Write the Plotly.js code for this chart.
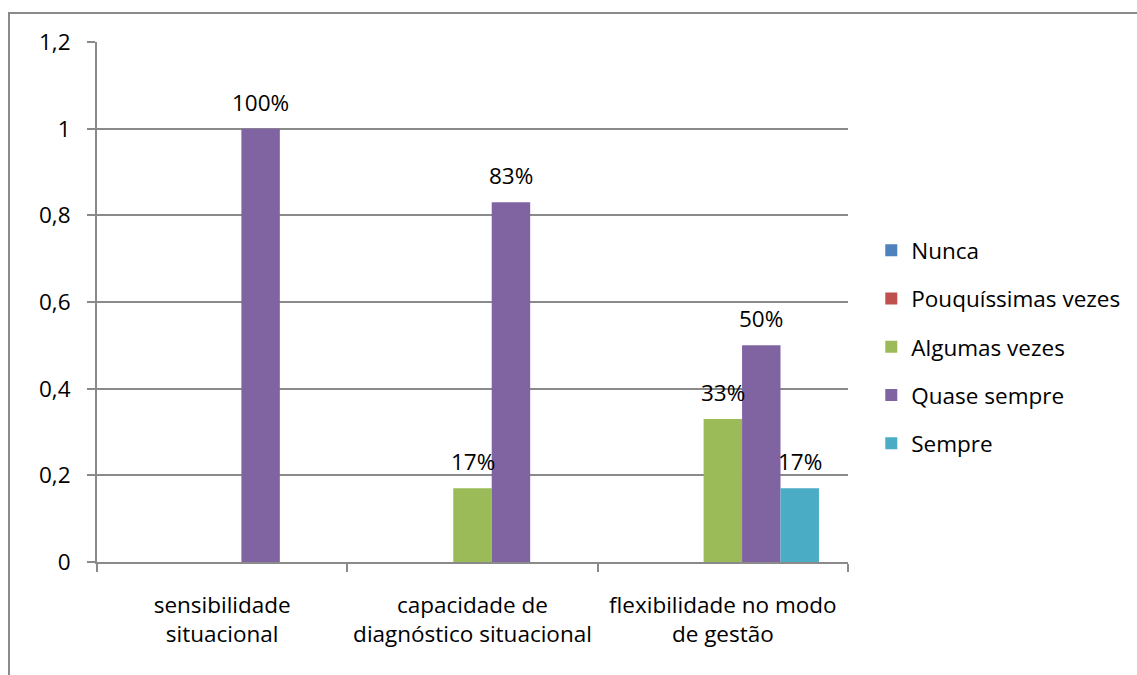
<!DOCTYPE html>
<html>
<head>
<meta charset="utf-8">
<script src="https://cdn.plot.ly/plotly-3.0.1.min.js"></script>
<style>
  html, body { margin: 0; padding: 0; background: #ffffff; }
  #wrap { position: relative; width: 1137px; height: 675px; overflow: hidden; }
  #chart { position: absolute; left: 0; top: 0; width: 1137px; height: 675px; }
  #frame { position: absolute; left: 8px; top: 12px; width: 1200px; height: 700px;
           border-top: 2px solid #8a8a8a; border-left: 2px solid #8a8a8a; pointer-events: none; }
</style>
</head>
<body>
<div id="wrap">
  <div id="chart"></div>
  <div id="frame"></div>
</div>
<script>
// Competências avaliadas
const categories = [
  "sensibilidade<br>situacional",
  "capacidade de<br>diagnóstico situacional",
  "flexibilidade no modo<br>de gestão"
];

// Frequência de respostas por categoria
const seriesNames = ["Nunca", "Pouquíssimas vezes", "Algumas vezes", "Quase sempre", "Sempre"];
const nunca        = [0, 0, 0];
const pouquissimas = [0, 0, 0];
const algumas      = [0, 0.17, 0.33];
const quaseSempre  = [1.0, 0.83, 0.5];
const sempre       = [0, 0, 0.17];

const seriesColors = ["#4F81BD", "#C0504D", "#9BBB59", "#8064A2", "#4BACC6"];
const yTicks = [0, 0.2, 0.4, 0.6, 0.8, 1, 1.2];

const FONT = "Open Sans, Lato, sans-serif";
const FS = 22.5;
const allSeries = [nunca, pouquissimas, algumas, quaseSempre, sempre];

// plot geometry
const W = 1137, H = 675;
const M = { l: 97, r: 289, t: 42, b: 113 };
const BARGAP = 0.232;
const plotW = W - M.l - M.r;
const barW = plotW / categories.length * (1 - BARGAP) / allSeries.length;
const mid = (allSeries.length - 1) / 2;

const traces = allSeries.map((vals, i) => ({
  type: "bar",
  name: seriesNames[i],
  legendgroup: "g" + i,
  x: categories,
  y: vals,
  marker: { color: seriesColors[i], line: { width: 0 } },
  hoverinfo: "none"
}));

// percentage labels above each non-zero bar, shifted to its slot in the group
const labels = [];
allSeries.forEach((vals, i) => {
  vals.forEach((v, j) => {
    if (v > 0) {
      labels.push({
        x: categories[j],
        y: v,
        xref: "x",
        yref: "y",
        text: Math.round(v * 100) + "%",
        showarrow: false,
        xanchor: "center",
        yanchor: "bottom",
        xshift: (i - mid) * barW,
        yshift: 9,
        font: { family: FONT, size: FS, color: "#000000" }
      });
    }
  });
});

const layout = {
  width: W,
  height: H,
  margin: M,
  paper_bgcolor: "#ffffff",
  plot_bgcolor: "#ffffff",
  font: { family: FONT, size: FS, color: "#000000" },
  separators: ",.",
  barmode: "group",
  bargap: BARGAP,
  bargroupgap: 0,
  showlegend: true,
  annotations: labels,
  legend: {
    x: 1.031, xanchor: "left",
    y: 0.413, yanchor: "middle",
    traceorder: "grouped",
    tracegroupgap: 16,
    font: { family: FONT, size: FS, color: "#000000" },
    itemwidth: 30,
    bgcolor: "rgba(0,0,0,0)"
  },
  xaxis: {
    type: "category",
    showline: true,
    linecolor: "#8a8a8a",
    linewidth: 2,
    ticks: "outside",
    tickson: "boundaries",
    ticklen: 8,
    tickwidth: 2,
    tickcolor: "#8a8a8a",
    showgrid: false,
    tickfont: { family: FONT, size: FS, color: "#000000" },
    ticklabelstandoff: 22,
    fixedrange: true
  },
  yaxis: {
    range: [0, 1.2],
    tickvals: yTicks,
    ticktext: yTicks.map(v => String(v).replace(".", ",")),
    showline: true,
    linecolor: "#8a8a8a",
    linewidth: 2,
    ticks: "outside",
    ticklen: 8,
    tickwidth: 2,
    tickcolor: "#8a8a8a",
    showgrid: true,
    gridcolor: "#8a8a8a",
    gridwidth: 2,
    zeroline: false,
    tickfont: { family: FONT, size: FS, color: "#000000" },
    ticklabelstandoff: 12,
    fixedrange: true
  }
};

Plotly.newPlot("chart", traces, layout, { displayModeBar: false, staticPlot: true });
</script>
</body>
</html>
